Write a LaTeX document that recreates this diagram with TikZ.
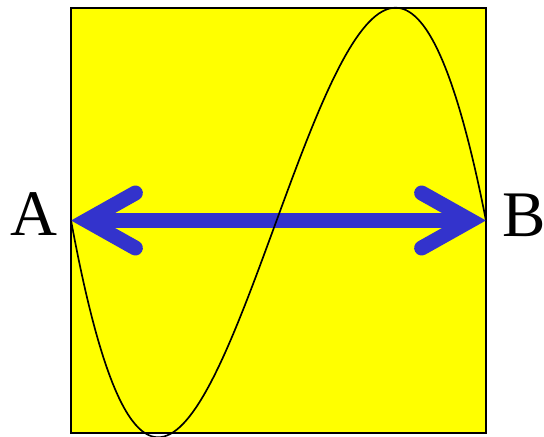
\documentclass[tikz,border=0pt]{standalone}
\usepackage{fontspec}
\setmainfont{Liberation Serif}
\usetikzlibrary{arrows.meta}
\definecolor{sqyellow}{RGB}{255,255,0}
\definecolor{arrowblue}{RGB}{51,51,204}

\begin{document}
\begin{tikzpicture}[x=0.02cm, y=-0.02cm,
  frame/.style={draw, line width=1.1pt, fill=sqyellow, minimum width=8.3cm, minimum height=8.5cm, inner sep=0pt, outer sep=0pt},
  lab/.style={font=\fontsize{37}{40}\selectfont, inner sep=0pt},
  barb/.tip={Straight Barb[length=0.98cm, width=1.1cm, line cap=round, line join=miter]},
  dbl/.style={arrowblue, line width=0.3cm, barb-barb},
  wave/.style={line width=0.95pt}]
\useasboundingbox (0,0) rectangle (544,436);

\node[frame] (sq) at (278.5,220.5) {};
\node[lab] (A) at (33.5,214.5) {A};
\node[lab] (B) at (524.5,215) {B};

\draw[dbl] (sq.west) -- (sq.east);
\draw[wave] (sq.west) .. controls +(138,748) and +(-146,-740) .. (sq.east);
\end{tikzpicture}
\end{document}
